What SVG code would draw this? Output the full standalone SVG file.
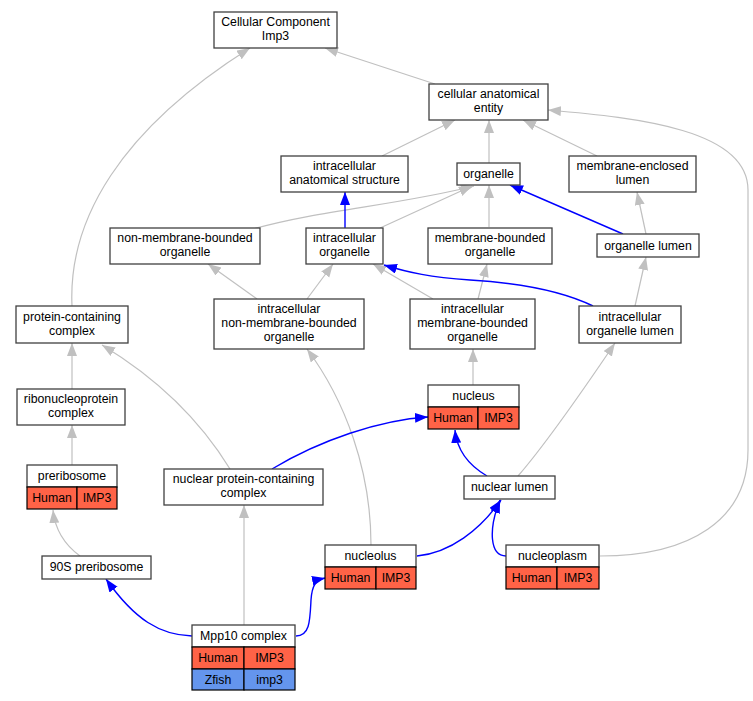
<svg xmlns="http://www.w3.org/2000/svg" width="753" height="701" viewBox="0 0 753 701">
<style>
.n{fill:#fff;stroke:#404040;stroke-width:1.3}
.h{fill:#ff6347;stroke:#000;stroke-width:1.2}
.z{fill:#6495ed;stroke:#000;stroke-width:1.2}
text{font-family:"Liberation Sans",Arial,sans-serif;font-size:12.3px;fill:#000;text-anchor:middle}
.g{fill:none;stroke:#c0c0c0;stroke-width:1.2}
.b{fill:none;stroke:#0000ff;stroke-width:1.4}
.g{marker-end:url(#ag)}
.b{marker-end:url(#ab)}
</style>
<defs>
<marker id="ag" markerUnits="userSpaceOnUse" markerWidth="14" markerHeight="11" refX="13" refY="5" orient="auto"><path d="M0,0 L13,5 L0,10 z" fill="#c0c0c0"/></marker>
<marker id="ab" markerUnits="userSpaceOnUse" markerWidth="14" markerHeight="11" refX="13" refY="5" orient="auto"><path d="M0,0 L13,5 L0,10 z" fill="#0000ff"/></marker>
</defs>
<g id="edges">
<path class="g" d="M435,84 L325,48"/>
<path class="g" d="M72,306 C68,220 120,130 250,48"/>
<path class="g" d="M382,156 L455,120"/>
<path class="g" d="M489,163 L489,120"/>
<path class="g" d="M597,156 L523,120"/>
<path class="g" d="M600,556 C690,556 748,520 748,450 L748,190 C748,130 640,118 548,110"/>
<path class="g" d="M253,229 C320,210 400,205 474,186"/>
<path class="g" d="M380,228 L472,186"/>
<path class="g" d="M489,227 L489,185"/>
<path class="b" d="M623,234 L510,185"/>
<path class="g" d="M646,234 L637,192"/>
<path class="b" d="M345,228 L345,192"/>
<path class="g" d="M257,299 L208,264"/>
<path class="g" d="M307,299 L333,264"/>
<path class="g" d="M433,299 L373,264"/>
<path class="g" d="M478,299 L487,264"/>
<path class="b" d="M593,306 C560,290 520,283 470,280 C430,277 410,273 384,265"/>
<path class="g" d="M635,306 L646,257"/>
<path class="g" d="M72,389 L72,343"/>
<path class="g" d="M72,465 L72,425"/>
<path class="g" d="M230,469 C200,420 160,380 102,345"/>
<path class="g" d="M371,545 C371,470 345,400 307,349"/>
<path class="g" d="M473,385 L473,349"/>
<path class="g" d="M518,476 C545,445 590,380 615,343"/>
<path class="b" d="M487,476 C470,466 457,452 455,430"/>
<path class="b" d="M272,469 C320,440 380,420 428,417"/>
<path class="g" d="M80,556 C65,545 55,530 53,510"/>
<path class="b" d="M192,636 C160,635 135,620 106,579"/>
<path class="g" d="M244,625 L244,505"/>
<path class="b" d="M296,636 C310,636 310,620 311,600 C312,585 316,580 325,578"/>
<path class="b" d="M417,556 C450,553 480,530 501,500"/>
<path class="b" d="M506,556 C490,556 488,530 500,500"/>
</g>
<g id="n_cc"><rect class="n" x="214" y="12" width="123" height="36"/><text x="275.5" y="26">Cellular Component</text><text x="275.5" y="40">Imp3</text></g>
<g id="n_cae"><rect class="n" x="429" y="84" width="119" height="36"/><text x="488.5" y="98">cellular anatomical</text><text x="488.5" y="112">entity</text></g>
<g id="n_ias"><rect class="n" x="281" y="156" width="127" height="36"/><text x="344.5" y="170">intracellular</text><text x="344.5" y="184">anatomical structure</text></g>
<g id="n_org"><rect class="n" x="457" y="163" width="63" height="22"/><text x="488.5" y="178">organelle</text></g>
<g id="n_mel"><rect class="n" x="569" y="156" width="127" height="36"/><text x="632.5" y="170">membrane-enclosed</text><text x="632.5" y="184">lumen</text></g>
<g id="n_nmbo"><rect class="n" x="110" y="228" width="150" height="36"/><text x="185" y="242">non-membrane-bounded</text><text x="185" y="256">organelle</text></g>
<g id="n_io"><rect class="n" x="306" y="228" width="77" height="36"/><text x="344.5" y="242">intracellular</text><text x="344.5" y="256">organelle</text></g>
<g id="n_mbo"><rect class="n" x="428" y="228" width="124" height="36"/><text x="490" y="242">membrane-bounded</text><text x="490" y="256">organelle</text></g>
<g id="n_ol"><rect class="n" x="597" y="234" width="102" height="23"/><text x="648" y="250">organelle lumen</text></g>
<g id="n_pcc"><rect class="n" x="16" y="306" width="112" height="37"/><text x="72" y="321">protein-containing</text><text x="72" y="335">complex</text></g>
<g id="n_inmbo"><rect class="n" x="214" y="299" width="150" height="50"/><text x="289" y="313">intracellular</text><text x="289" y="327">non-membrane-bounded</text><text x="289" y="341">organelle</text></g>
<g id="n_imbo"><rect class="n" x="410" y="299" width="125" height="50"/><text x="472.5" y="313">intracellular</text><text x="472.5" y="327">membrane-bounded</text><text x="472.5" y="341">organelle</text></g>
<g id="n_iol"><rect class="n" x="579" y="306" width="102" height="37"/><text x="630" y="321">intracellular</text><text x="630" y="335">organelle lumen</text></g>
<g id="n_rnp"><rect class="n" x="17" y="389" width="108" height="36"/><text x="71" y="403">ribonucleoprotein</text><text x="71" y="417">complex</text></g>
<g id="n_nucleus"><rect class="n" x="428" y="385" width="91" height="22"/><text x="473.5" y="400">nucleus</text><rect class="h" x="428" y="407" width="50" height="22"/><rect class="h" x="478" y="407" width="41" height="22"/><text x="453" y="422">Human</text><text x="498.5" y="422">IMP3</text></g>
<g id="n_prer"><rect class="n" x="27" y="465" width="90" height="22"/><text x="72" y="480">preribosome</text><rect class="h" x="27" y="487" width="50" height="22"/><rect class="h" x="77" y="487" width="40" height="22"/><text x="52" y="502">Human</text><text x="97" y="502">IMP3</text></g>
<g id="n_npcc"><rect class="n" x="164" y="469" width="159" height="36"/><text x="243.5" y="483">nuclear protein-containing</text><text x="243.5" y="497">complex</text></g>
<g id="n_nl"><rect class="n" x="464" y="476" width="91" height="23"/><text x="509.5" y="491">nuclear lumen</text></g>
<g id="n_90s"><rect class="n" x="42" y="556" width="109" height="23"/><text x="96.5" y="571">90S preribosome</text></g>
<g id="n_nucleolus"><rect class="n" x="325" y="545" width="91" height="22"/><text x="370.5" y="560">nucleolus</text><rect class="h" x="325" y="567" width="51" height="22"/><rect class="h" x="376" y="567" width="40" height="22"/><text x="350.5" y="582">Human</text><text x="396" y="582">IMP3</text></g>
<g id="n_nucleoplasm"><rect class="n" x="506" y="545" width="93" height="22"/><text x="552.5" y="560">nucleoplasm</text><rect class="h" x="506" y="567" width="51" height="22"/><rect class="h" x="557" y="567" width="42" height="22"/><text x="531.5" y="582">Human</text><text x="578" y="582">IMP3</text></g>
<g id="n_mpp10"><rect class="n" x="192" y="625" width="103" height="22"/><text x="243.5" y="640">Mpp10 complex</text><rect class="h" x="192" y="647" width="52" height="22"/><rect class="h" x="244" y="647" width="51" height="22"/><text x="218" y="662">Human</text><text x="269.5" y="662">IMP3</text><rect class="z" x="192" y="669" width="52" height="21"/><rect class="z" x="244" y="669" width="51" height="21"/><text x="218" y="684">Zfish</text><text x="269.5" y="684">imp3</text></g>
</svg>
